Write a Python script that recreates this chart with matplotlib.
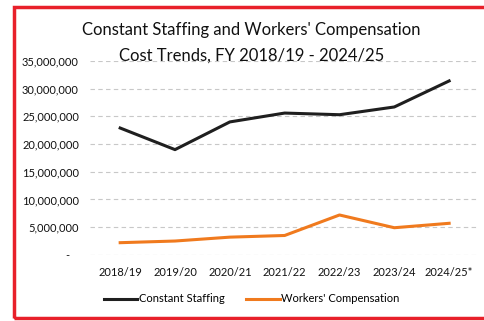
import matplotlib.pyplot as plt
import matplotlib.patches as patches
from matplotlib.ticker import FuncFormatter

# data
years = ["2018/19", "2019/20", "2020/21", "2021/22", "2022/23", "2023/24", "2024/25*"]
constant_staffing = [22900000, 19000000, 24000000, 25600000, 25300000, 26700000, 31400000]
workers_comp = [2200000, 2500000, 3200000, 3500000, 7200000, 4900000, 5700000]
y_ticks = [0, 5000000, 10000000, 15000000, 20000000, 25000000, 30000000, 35000000]

plt.rcParams['font.family'] = ['Lato', 'DejaVu Sans']

fig = plt.figure(figsize=(4.84, 3.21), dpi=100)
ax = fig.add_axes([0.186, 0.206, 0.802, 0.604])

x = range(len(years))
ax.plot(x, constant_staffing, color="#1f1f1f", lw=2.2, label="Constant Staffing")
ax.plot(x, workers_comp, color="#f07a1e", lw=2.2, label="Workers' Compensation")

ax.set_xlim(-0.55, 6.53)
ax.set_ylim(0, 35000000)
ax.set_yticks(y_ticks)
ax.yaxis.set_major_formatter(FuncFormatter(lambda v, p: "-   " if v == 0 else f"{v:,.0f}"))
ax.set_xticks(list(x))
ax.set_xticklabels(years)
ax.tick_params(length=0, labelsize=8, colors="#111111")
ax.tick_params(axis="x", pad=9)
ax.tick_params(axis="y", pad=8)
ax.grid(axis="y", color="#c8c8c8", ls=(0, (4, 3)), lw=0.8)
ax.set_axisbelow(True)
for s in ax.spines.values():
    s.set_visible(False)

fig.text(0.52, 0.908, "Constant Staffing and Workers' Compensation",
         ha="center", va="center", fontsize=12, color="#111111")
fig.text(0.52, 0.828, "Cost Trends, FY 2018/19 - 2024/25",
         ha="center", va="center", fontsize=12, color="#111111")

fig.legend(loc="center", bbox_to_anchor=(0.52, 1 - 299 / 321), ncol=2,
           frameon=False, fontsize=8, handlelength=3, columnspacing=2.0,
           handletextpad=0.1)

# red frame round the chart
fig.patches.append(patches.Rectangle((14 / 484, 1 - 318 / 321), 1.0, 311 / 321,
                                     transform=fig.transFigure, fill=False,
                                     edgecolor="#e8202a", lw=2.5))

fig.savefig("out.png", dpi=100)
